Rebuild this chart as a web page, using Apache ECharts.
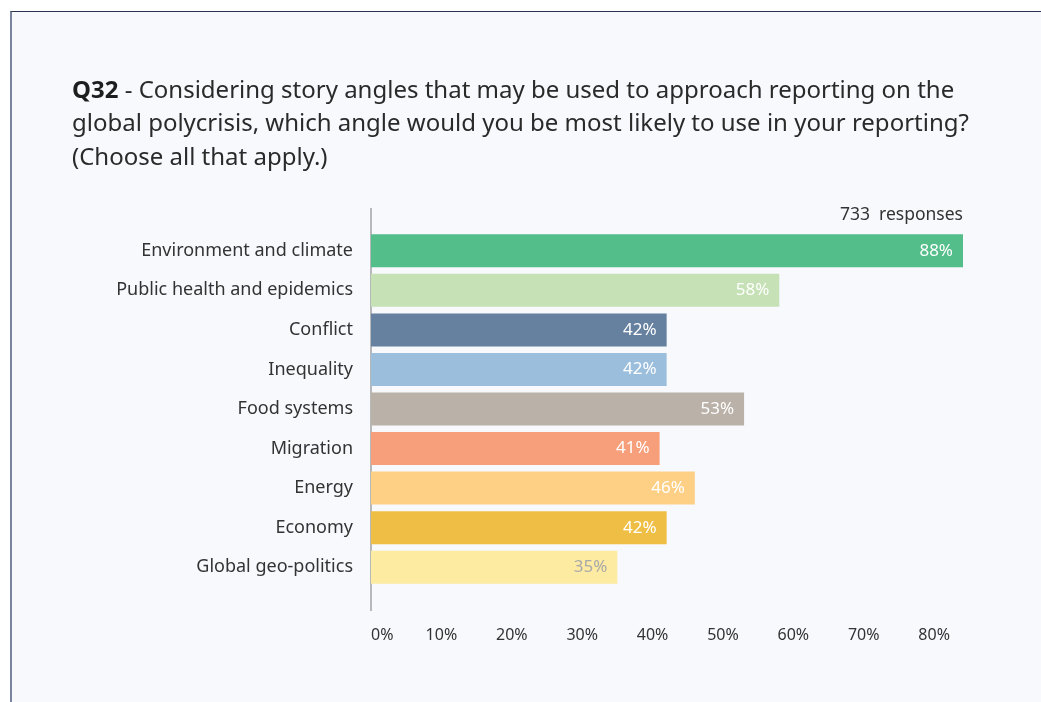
<!DOCTYPE html>
<html>
<head>
<meta charset="utf-8">
<script src="https://cdn.jsdelivr.net/npm/echarts@6/dist/echarts.min.js"></script>
<style>
  html, body { margin: 0; padding: 0; background: #ffffff; width: 1041px; height: 702px; overflow: hidden; }
  #panel { position: absolute; left: 10px; top: 11px; width: 1031px; height: 691px; background: #f7f9fd;
           border-top: 1px solid #2a3452; border-left: 2px solid #7a849c; box-sizing: border-box; }
  #chart { position: absolute; left: 0; top: 0; width: 1041px; height: 702px; }
</style>
</head>
<body>
<div id="panel"></div>
<div id="chart"></div>
<script>
const categories = ["Environment and climate", "Public health and epidemics", "Conflict", "Inequality",
  "Food systems", "Migration", "Energy", "Economy", "Global geo-politics"];
const values = [88, 58, 42, 42, 53, 41, 46, 42, 35];
const barColors = ["#53be8a", "#c5e1b5", "#66819f", "#9cbedd", "#bab1a8", "#f79f7b", "#fed086", "#efbe44", "#fdeba2"];
const labelColors = ["#ffffff", "#ffffff", "#ffffff", "#ffffff", "#ffffff", "#ffffff", "#ffffff", "#ffffff", "#a9a9a9"];
const tickValues = [0, 10, 20, 30, 40, 50, 60, 70, 80];
const responsesText = "733  responses";
const titleBold = "Q32";
const titleLines = [" - Considering story angles that may be used to approach reporting on the",
  "global polycrisis, which angle would you be most likely to use in your reporting?",
  "(Choose all that apply.)"];

const FONT = "Noto Sans";
const chart = echarts.init(document.getElementById('chart'), null, { renderer: 'canvas' });

const option = {
  backgroundColor: 'transparent',
  animation: false,
  textStyle: { fontFamily: FONT },
  title: [
    {
      left: 72, top: 74, padding: 0,
      text: '{b|' + titleBold + '}' + titleLines.map(l => '{n|' + l + '}').join('\n'),
      textStyle: {
        rich: {
          b: { fontFamily: FONT, fontWeight: 'bold', fontSize: 24, color: '#1e1e1e', lineHeight: 33.5 },
          n: { fontFamily: FONT, fontWeight: 'normal', fontSize: 24, color: '#2a2a2a', lineHeight: 33.5 }
        }
      }
    },
    {
      right: 78, top: 206, padding: 0,
      text: responsesText,
      textStyle: { fontFamily: FONT, fontWeight: 'normal', fontSize: 17.5, color: '#333333' }
    }
  ],
  grid: { left: 371, right: 78, top: 231, height: 356, containLabel: false },
  xAxis: {
    type: 'value', min: 0, max: 84.1, interval: 10,
    axisLine: { show: false }, axisTick: { show: false }, splitLine: { show: false },
    axisLabel: {
      formatter: v => (tickValues.indexOf(v) >= 0 ? v + '%' : ''),
      showMaxLabel: false, alignMinLabel: 'left',
      margin: 40, fontFamily: FONT, fontSize: 16, color: '#333333'
    }
  },
  yAxis: {
    type: 'category', data: categories, inverse: true,
    axisLine: { show: false }, axisTick: { show: false },
    axisLabel: { margin: 18, fontFamily: FONT, fontSize: 18, color: '#333333' }
  },
  series: [{
    type: 'bar', barWidth: 33, clip: true,
    data: values.map((v, i) => ({
      value: v,
      itemStyle: { color: barColors[i] },
      label: { color: labelColors[i] }
    })),
    label: {
      show: true, position: 'insideRight', distance: 10,
      formatter: p => p.value + '%',
      fontFamily: FONT, fontSize: 17, fontWeight: 'normal'
    }
  }],
  graphic: [{
    type: 'line', silent: true,
    shape: { x1: 371, y1: 208, x2: 371, y2: 611 },
    style: { stroke: '#8c8c8c', lineWidth: 1.2 }
  }]
};
chart.setOption(option);
</script>
</body>
</html>
